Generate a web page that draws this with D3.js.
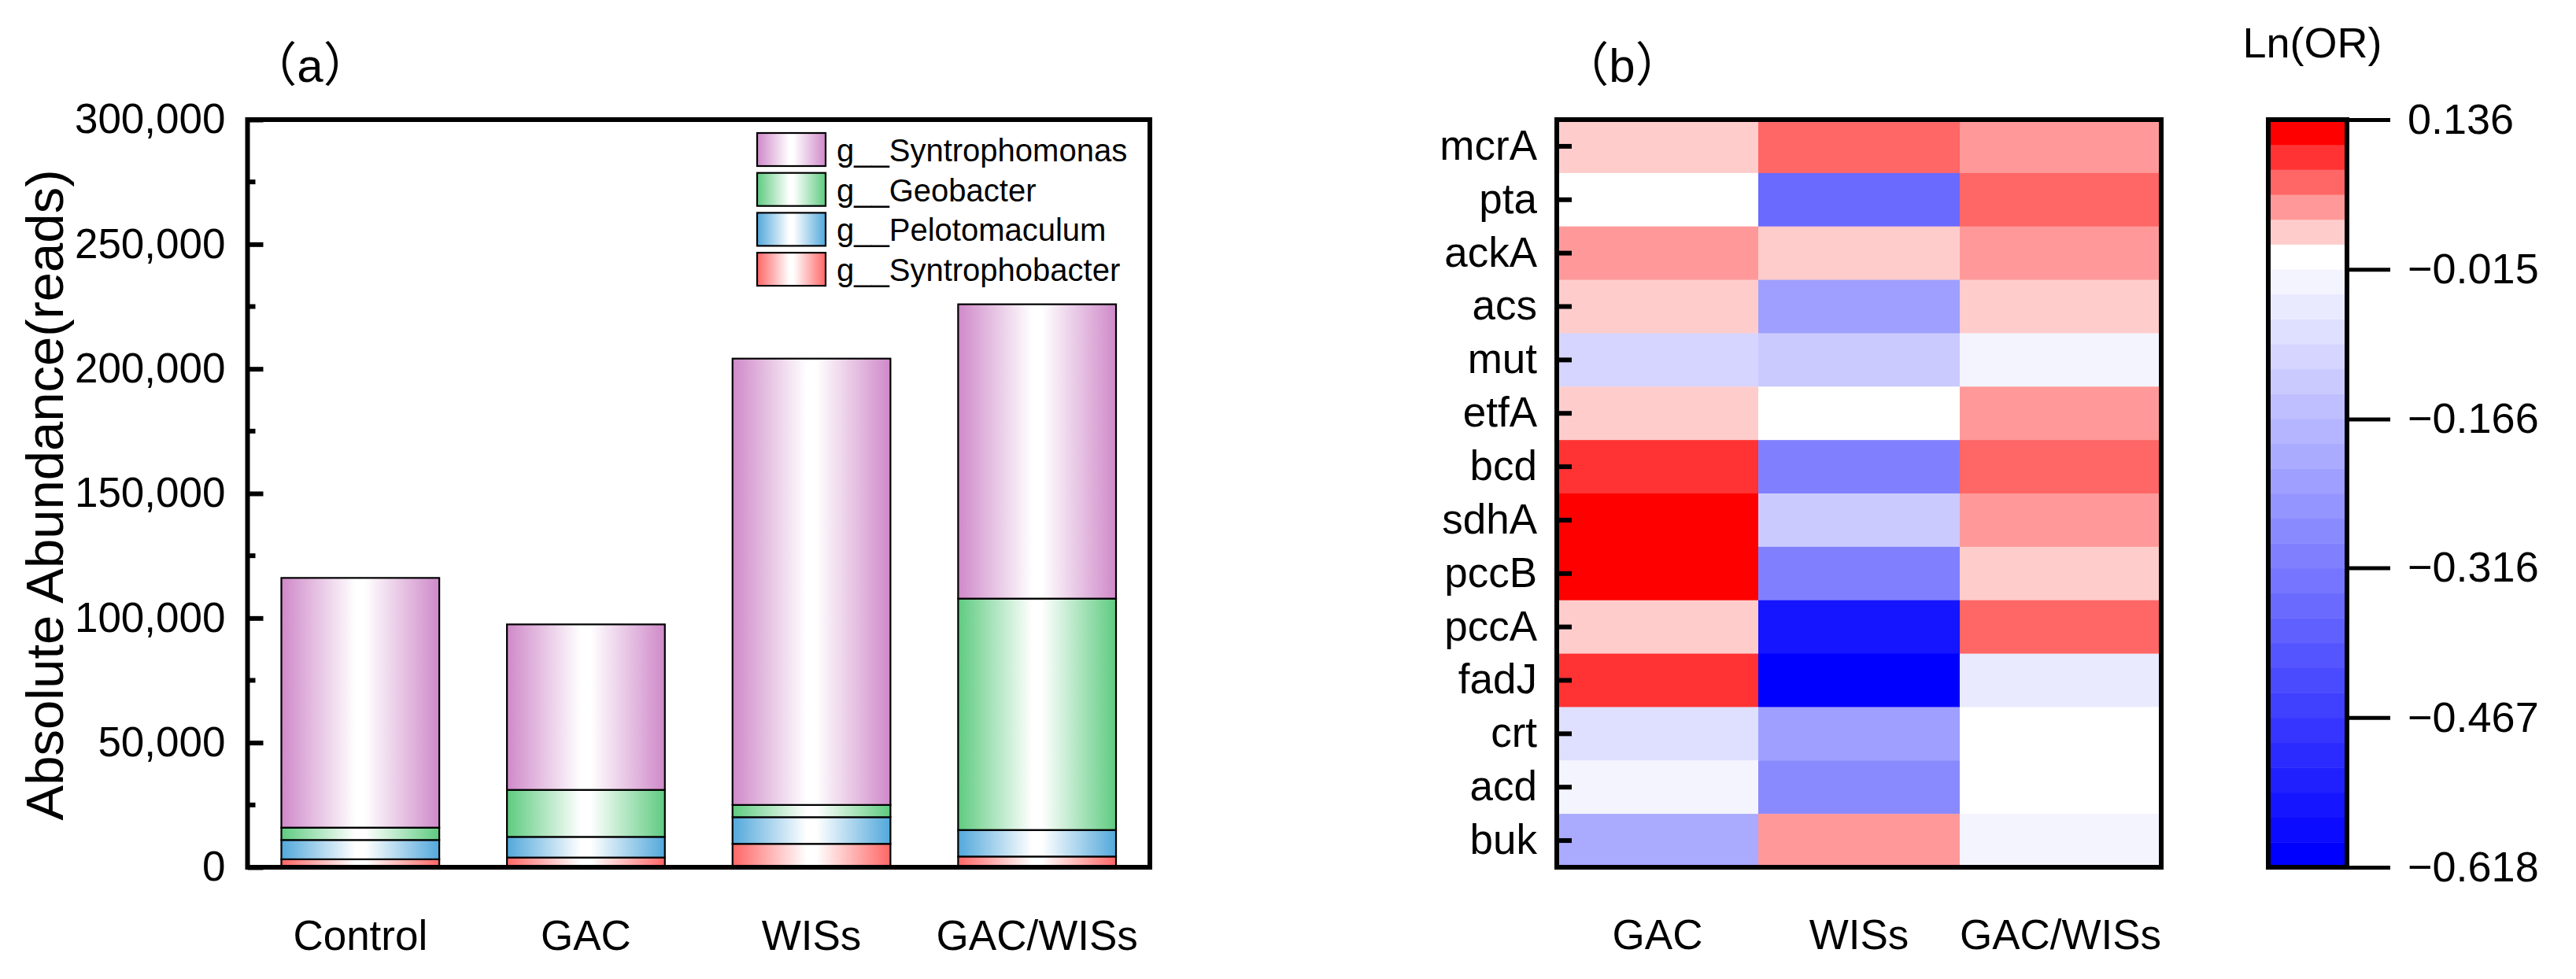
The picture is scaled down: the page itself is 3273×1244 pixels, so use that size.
<!DOCTYPE html>
<meta charset="utf-8">
<style>
body { margin: 0; background: #fff; }
text { font-family: "Liberation Sans", Arial, sans-serif; fill: #000; }
.title { font-family: "Liberation Sans", "Noto Sans CJK SC", sans-serif; }
</style>
<script src="https://cdn.jsdelivr.net/npm/d3@7"></script>
<body>
<script>

// panel (a) data, reads
var groups = ["Control", "GAC", "WISs", "GAC/WISs"];
var genera = ["g__Syntrophobacter", "g__Pelotomaculum", "g__Geobacter", "g__Syntrophomonas"];
var syntrophobacter = [3200, 3900, 9400, 4300];
var pelotomaculum   = [7750, 8300, 10700, 10650];
var geobacter       = [4950, 18850, 4900, 92850];
var syntrophomonas  = [100200, 66400, 179100, 118100];
var yTicks = [0, 50000, 100000, 150000, 200000, 250000, 300000];

// panel (b) data, Ln(OR)
var genes = ["mcrA", "pta", "ackA", "acs", "mut", "etfA", "bcd", "sdhA", "pccB", "pccA", "fadJ", "crt", "acd", "buk"];
var treatments = ["GAC", "WISs", "GAC/WISs"];
var lnGAC     = [0.023, -0.002, 0.048, 0.023, -0.103, 0.023, 0.098, 0.124, 0.124, 0.023, 0.098, -0.078, -0.028, -0.203];
var lnWISs    = [0.073, -0.354, 0.023, -0.229, -0.128, -0.002, -0.304, -0.128, -0.304, -0.555, -0.605, -0.229, -0.279, 0.048];
var lnGACWISs = [0.048, 0.073, 0.048, 0.023, -0.028, 0.048, 0.073, 0.048, 0.023, 0.073, -0.053, -0.002, -0.002, -0.028];
var cbTicks = [0.136, -0.015, -0.166, -0.316, -0.467, -0.618];

var W = 3273, H = 1244;
var svg = d3.select("body").append("svg").attr("width", W).attr("height", H);
var defs = svg.append("defs");

var barColors = {
  "g__Syntrophomonas": "#cf89c9",
  "g__Geobacter": "#5ecb80",
  "g__Pelotomaculum": "#52a8db",
  "g__Syntrophobacter": "#ff6666"
};
genera.forEach(function(g, i) {
  var lg = defs.append("linearGradient").attr("id", "grad" + i)
    .attr("x1", "0%").attr("x2", "100%").attr("y1", "0%").attr("y2", "0%");
  lg.append("stop").attr("offset", "0%").attr("stop-color", barColors[g]);
  lg.append("stop").attr("offset", "47%").attr("stop-color", "#fff");
  lg.append("stop").attr("offset", "53%").attr("stop-color", "#fff");
  lg.append("stop").attr("offset", "100%").attr("stop-color", barColors[g]);
});

// ---------- panel (a) ----------
var ax0 = 314.5, ax1 = 1461, ay0 = 152, ay1 = 1102;
var x = d3.scaleBand().domain(groups).range([ax0, ax1]).paddingInner(0.3).paddingOuter(0.15);
var y = d3.scaleLinear().domain([0, 300000]).range([ay1, ay0]);

var table = groups.map(function(g, i) {
  return { group: g,
    "g__Syntrophobacter": syntrophobacter[i],
    "g__Pelotomaculum": pelotomaculum[i],
    "g__Geobacter": geobacter[i],
    "g__Syntrophomonas": syntrophomonas[i] };
});
var stack = d3.stack().keys(genera)(table);

var gA = svg.append("g");
stack.forEach(function(layer, li) {
  gA.selectAll(null).data(layer).enter().append("rect")
    .attr("x", function(d) { return x(d.data.group); })
    .attr("width", x.bandwidth())
    .attr("y", function(d) { return y(d[1]); })
    .attr("height", function(d) { return y(d[0]) - y(d[1]); })
    .attr("fill", "url(#grad" + li + ")")
    .attr("stroke", "#000")
    .attr("stroke-width", 2.2);
});

// box
gA.append("rect").attr("x", ax0).attr("y", ay0).attr("width", ax1 - ax0).attr("height", ay1 - ay0)
  .attr("fill", "none").attr("stroke", "#000").attr("stroke-width", 6);

// y ticks, pointing inward
var yAxis = d3.axisLeft(y).tickValues(yTicks).tickSize(-20).tickPadding(28).tickFormat(d3.format(","));
var ya = gA.append("g").attr("transform", "translate(" + ax0 + ",0)").call(yAxis);
ya.select(".domain").remove();
ya.selectAll("line").attr("stroke-width", 6);
ya.selectAll("text").attr("font-size", 53).attr("font-family", "Liberation Sans, Arial, sans-serif");
var minor = d3.range(1, 12, 2).map(function(k) { return k * 25000; });
gA.selectAll(null).data(minor).enter().append("line")
  .attr("x1", ax0).attr("x2", ax0 + 10)
  .attr("y1", function(d) { return y(d); }).attr("y2", function(d) { return y(d); })
  .attr("stroke", "#000").attr("stroke-width", 6);

gA.selectAll(null).data(groups).enter().append("text")
  .attr("x", function(d) { return x(d) + x.bandwidth() / 2; })
  .attr("y", 1207).attr("text-anchor", "middle").attr("font-size", 53)
  .text(function(d) { return d; });

svg.append("text").attr("transform", "translate(80,629) rotate(-90)")
  .attr("text-anchor", "middle").attr("font-size", 67).text("Absolute Abundance(reads)");

svg.append("text").attr("class", "title").attr("x", 394).attr("y", 104)
  .attr("text-anchor", "middle").attr("font-size", 60).text("（a）");

// legend
var legOrder = genera.slice().reverse();
var leg = gA.selectAll(null).data(legOrder).enter().append("g")
  .attr("transform", function(d, i) { return "translate(962," + (169 + i * 50.7) + ")"; });
leg.append("rect").attr("width", 87).attr("height", 42)
  .attr("fill", function(d) { return "url(#grad" + genera.indexOf(d) + ")"; })
  .attr("stroke", "#000").attr("stroke-width", 2.2);
leg.append("text").attr("x", 101).attr("y", 36).attr("font-size", 40).text(function(d) { return d; });

// ---------- panel (b) ----------
var bx0 = 1978, bx1 = 2746;
var hx = d3.scaleBand().domain(treatments).range([bx0, bx1]);
var hy = d3.scaleBand().domain(genes).range([ay0, ay1]);

// 30 steps: 24 blue steps, one white, 5 red steps
var palette = [];
for (var i = 0; i < 30; i++) {
  if (i < 24) {
    var v = Math.round(255 * i / 24);
    palette.push(d3.rgb(v, v, 255).formatHex());
  } else if (i === 24) {
    palette.push("#ffffff");
  } else {
    var c = 255 - (i - 24) * 51;
    palette.push(d3.rgb(255, c, c).formatHex());
  }
}
var color = d3.scaleQuantize().domain([-0.618, 0.136]).range(palette);

var cells = [];
genes.forEach(function(g, i) {
  cells.push({ gene: g, t: "GAC", v: lnGAC[i] });
  cells.push({ gene: g, t: "WISs", v: lnWISs[i] });
  cells.push({ gene: g, t: "GAC/WISs", v: lnGACWISs[i] });
});

var gB = svg.append("g");
gB.selectAll(null).data(cells).enter().append("rect")
  .attr("x", function(d) { return hx(d.t); })
  .attr("y", function(d) { return hy(d.gene); })
  .attr("width", hx.bandwidth() + 0.5)
  .attr("height", hy.bandwidth() + 0.5)
  .attr("fill", function(d) { return color(d.v); });

gB.append("rect").attr("x", bx0).attr("y", ay0).attr("width", bx1 - bx0).attr("height", ay1 - ay0)
  .attr("fill", "none").attr("stroke", "#000").attr("stroke-width", 6);

var gAxis = d3.axisLeft(hy).tickSize(-19).tickPadding(25);
var ga = gB.append("g").attr("transform", "translate(" + bx0 + ",0)").call(gAxis);
ga.select(".domain").remove();
ga.selectAll("line").attr("stroke-width", 6);
ga.selectAll("text").attr("font-size", 53).attr("font-family", "Liberation Sans, Arial, sans-serif");

gB.selectAll(null).data(treatments).enter().append("text")
  .attr("x", function(d) { return hx(d) + hx.bandwidth() / 2; })
  .attr("y", 1206).attr("text-anchor", "middle").attr("font-size", 53)
  .text(function(d) { return d; });

svg.append("text").attr("class", "title").attr("x", 2061).attr("y", 104)
  .attr("text-anchor", "middle").attr("font-size", 60).text("（b）");

// colour bar
var cbx = 2882, cbw = 100;
var cy = d3.scaleLinear().domain([-0.618, 0.136]).range([ay1, ay0]);
var gC = svg.append("g");
gC.selectAll(null).data(palette).enter().append("rect")
  .attr("x", cbx)
  .attr("width", cbw)
  .attr("y", function(d) { return cy(color.invertExtent(d)[1]); })
  .attr("height", function(d) { var e = color.invertExtent(d); return cy(e[0]) - cy(e[1]) + 0.5; })
  .attr("fill", function(d) { return d; });
gC.append("rect").attr("x", cbx).attr("y", ay0).attr("width", cbw).attr("height", ay1 - ay0)
  .attr("fill", "none").attr("stroke", "#000").attr("stroke-width", 6);

var cAxis = d3.axisRight(cy).tickValues(cbTicks).tickSize(55).tickPadding(22).tickFormat(d3.format(".3f"));
var ca = gC.append("g").attr("transform", "translate(" + (cbx + cbw) + ",0)").call(cAxis);
ca.select(".domain").remove();
ca.selectAll("line").attr("stroke-width", 5);
ca.selectAll("text").attr("font-size", 54).attr("font-family", "Liberation Sans, Arial, sans-serif");

svg.append("text").attr("x", 2938).attr("y", 73).attr("text-anchor", "middle")
  .attr("font-size", 54).text("Ln(OR)");

</script>
</body>
